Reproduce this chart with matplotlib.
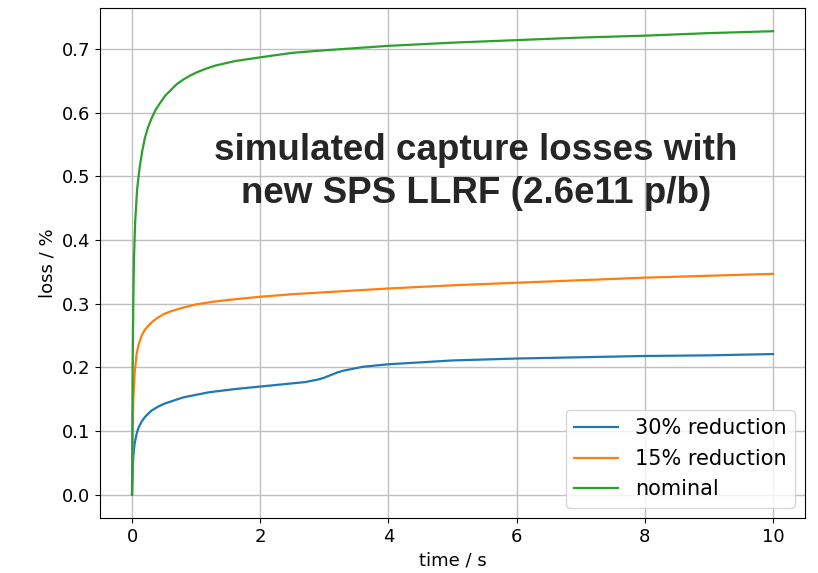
import matplotlib
matplotlib.use("Agg")
import matplotlib.pyplot as plt

# time axis samples (s) and loss (%) for each RF voltage setting
t_red30 = [0, 0.01, 0.02, 0.04, 0.07, 0.1, 0.15, 0.2, 0.3, 0.4, 0.5, 0.65, 0.8, 1.0,
           1.2, 1.6, 2.0, 2.4, 2.7, 2.9, 3.0, 3.1, 3.2, 3.3, 3.45, 3.6, 3.8, 4.0,
           4.5, 5, 6, 7, 8, 9, 10]
loss_red30 = [0, 0.03, 0.06, 0.08, 0.095, 0.105, 0.115, 0.122, 0.132, 0.138, 0.143,
              0.148, 0.153, 0.157, 0.161, 0.166, 0.170, 0.174, 0.177, 0.181, 0.184,
              0.188, 0.192, 0.195, 0.198, 0.201, 0.203, 0.205, 0.208, 0.211, 0.214,
              0.216, 0.218, 0.219, 0.221]

t_red15 = [0, 0.01, 0.02, 0.04, 0.07, 0.1, 0.15, 0.2, 0.25, 0.32, 0.4, 0.5, 0.6, 0.7,
           0.8, 1.0, 1.25, 1.5, 2, 2.5, 3, 4, 5, 6, 7, 8, 9, 10]
loss_red15 = [0, 0.1, 0.15, 0.19, 0.22, 0.235, 0.25, 0.259, 0.265, 0.272, 0.278,
              0.284, 0.288, 0.291, 0.294, 0.299, 0.303, 0.306, 0.311, 0.315, 0.318,
              0.324, 0.329, 0.333, 0.337, 0.341, 0.344, 0.347]

t_nominal = [0, 0.005, 0.01, 0.02, 0.03, 0.05, 0.08, 0.12, 0.16, 0.2, 0.25, 0.3,
             0.37, 0.45, 0.52, 0.6, 0.7, 0.8, 0.9, 1.0, 1.15, 1.3, 1.6, 2.0, 2.5, 3,
             4, 5, 6, 7, 8, 9, 10]
loss_nominal = [0, 0.1, 0.2, 0.3, 0.37, 0.43, 0.48, 0.515, 0.54, 0.56, 0.577, 0.59,
                0.605, 0.617, 0.627, 0.635, 0.645, 0.652, 0.658, 0.663, 0.669, 0.674,
                0.681, 0.687, 0.694, 0.698, 0.705, 0.710, 0.714, 0.718, 0.721, 0.725,
                0.728]

labels = ["30% reduction", "15% reduction", "nominal"]

fig = plt.figure(figsize=(8.18, 5.73), dpi=100)
ax = fig.add_axes([0.1222, 0.096, 0.862, 0.890])

ax.plot(t_red30, loss_red30, color="#1f77b4", lw=1.6, label=labels[0])
ax.plot(t_red15, loss_red15, color="#ff7f0e", lw=1.6, label=labels[1])
ax.plot(t_nominal, loss_nominal, color="#2ca02c", lw=1.6, label=labels[2])

ax.grid(True, color="#c0c0c0", lw=1.0)
ax.set_axisbelow(True)
ax.set_xticks([0, 2, 4, 6, 8, 10])
ax.set_yticks([0.0, 0.1, 0.2, 0.3, 0.4, 0.5, 0.6, 0.7])
ax.tick_params(labelsize=13)
ax.set_xlabel("time / s", fontsize=13)
ax.set_ylabel("loss / %", fontsize=13)

ax.legend(loc="lower right", fontsize=15, handlelength=2.1)

ax.text(0.533, 0.678, "simulated capture losses with\nnew SPS LLRF (2.6e11 p/b)",
        transform=ax.transAxes, ha="center", va="center",
        fontsize=26.5, fontweight="bold", family="Liberation Sans",
        color="#262626", linespacing=1.28)

fig.savefig("out.png", dpi=100)
